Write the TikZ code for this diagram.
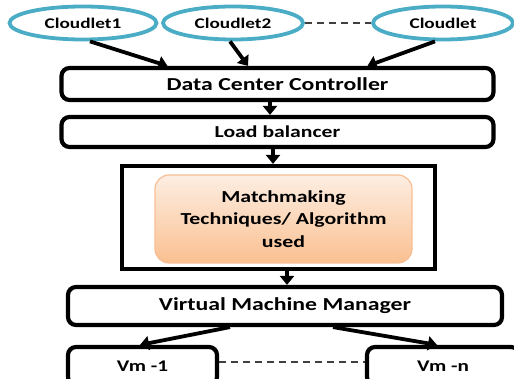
\documentclass[tikz,border=0pt]{standalone}
\usepackage{fontspec}
\setmainfont{Carlito}[FakeStretch=1.3]
\usetikzlibrary{shapes.geometric,arrows.meta,shadings}

\definecolor{cloudblue}{RGB}{75,172,198}
\definecolor{peachtop}{RGB}{253,238,226}
\definecolor{peachbot}{RGB}{250,192,145}
\definecolor{peachline}{RGB}{248,190,148}

\begin{document}
\begin{tikzpicture}
[x=1pt,y=-1pt,
  cloudNode/.style={ellipse,draw=cloudblue,line width=3.8pt,minimum height=33pt,inner sep=0pt,
    font=\fontsize{14.8}{16}\selectfont\bfseries},
  ctrlNode/.style={draw,rounded corners=8pt,line width=4.2pt,inner sep=0pt,
    font=\fontsize{18.3}{20}\selectfont\bfseries},
  lineDecorate/.style={-{Triangle[length=9pt,width=14pt]},line width=3.8pt},
  dashDecorate/.style={dash pattern=on 7pt off 5pt,line width=1.3pt,black!75}]
\useasboundingbox (0,0) rectangle (514,379);
%% cloudlets
\foreach \nodename/\x/\w/\txt in {c1/83/147/Cloudlet1, c2/233/140/Cloudlet2, c3/443/140/Cloudlet}
{
  \node (\nodename) at (\x,23) [cloudNode,minimum width=\w pt] {\txt};
}
%% controller chain
\node (dcc) at (277.5,84) [ctrlNode,minimum width=432pt,minimum height=32pt] {Data Center Controller};
\node (lb) at (277.5,132) [ctrlNode,minimum width=432pt,minimum height=30pt,
  font=\fontsize{16.7}{18}\selectfont\bfseries] {Load balancer};
\node (outer) at (278.5,217.5) [draw,line width=4.2pt,minimum width=313pt,minimum height=103pt] {};
\node (match) at (283.5,219) [draw=peachline,line width=1.2pt,rounded corners=14pt,
  top color=peachtop,bottom color=peachbot,minimum width=257pt,minimum height=88pt,
  align=center,font=\fontsize{16.8}{22.5}\selectfont\bfseries]
  {Matchmaking\\Techniques/ Algorithm\\used};
\node (vmm) at (285,306) [ctrlNode,minimum width=434pt,minimum height=38pt] {Virtual Machine Manager};
%% virtual machines
\node (vm1) at (142.5,366) [ctrlNode,minimum width=149pt,minimum height=38pt,
  font=\fontsize{16.3}{18}\selectfont\bfseries] {Vm -1};
\node (vmn) at (443,366) [ctrlNode,minimum width=152pt,minimum height=38pt,
  font=\fontsize{16.3}{18}\selectfont\bfseries] {Vm -n};
%% arrows
\draw[lineDecorate] ([xshift=7pt]c1.south) -- ([xshift=-110pt]dcc.north);
\draw[lineDecorate] ([xshift=-3pt]c2.south) -- ([xshift=-29.5pt]dcc.north);
\draw[lineDecorate] ([xshift=-8pt]c3.south) -- ([xshift=90pt]dcc.north);
\draw[lineDecorate] ([xshift=-7.5pt]dcc.south) -- ([xshift=-7.5pt]lb.north);
\draw[lineDecorate] ([xshift=-4.5pt]lb.south) -- ([xshift=-5.5pt]outer.north);
\draw[lineDecorate] ([xshift=8.5pt]outer.south) -- ([xshift=2pt]vmm.north);
\draw[lineDecorate] ([xshift=-55pt]vmm.south) -- ([xshift=-2.5pt]vm1.north);
\draw[lineDecorate] ([xshift=48pt]vmm.south) -- ([xshift=-6pt]vmn.north);
%% dashed links
\draw[dashDecorate] (c2.east) -- (c3.west);
\draw[dashDecorate] ([yshift=4pt]vm1.east) -- ([yshift=4pt]vmn.west);
\end{tikzpicture}
\end{document}
